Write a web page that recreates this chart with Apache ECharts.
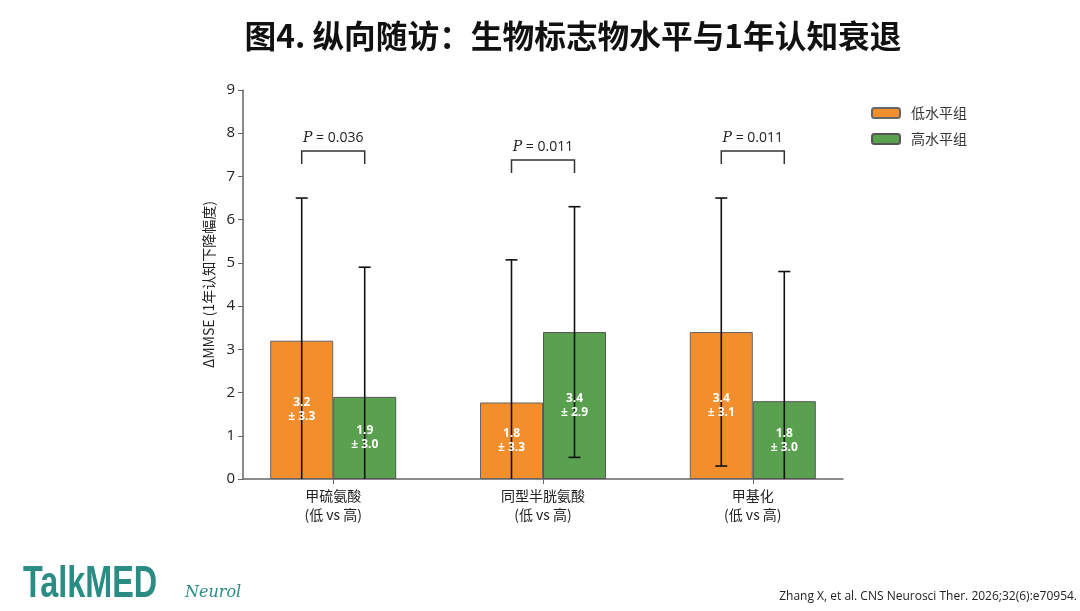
<!DOCTYPE html>
<html><head><meta charset="utf-8">
<script src="https://cdn.jsdelivr.net/npm/echarts@6/dist/echarts.min.js"></script>
<style>html,body{margin:0;padding:0;background:#fff}#c{width:1080px;height:611px}</style>
</head><body><div id="c"></div>
<script>
var categories = ['甲硫氨酸\n(低 vs 高)', '同型半胱氨酸\n(低 vs 高)', '甲基化\n(低 vs 高)'];
var categoryPos = [0, 1, 2];
var seriesNames = ['低水平组', '高水平组'];
var lowMean = [3.2, 1.77, 3.4];
var lowSD = [3.3, 3.3, 3.1];
var lowLabel = ['3.2', '1.8', '3.4'];
var highMean = [1.9, 3.4, 1.8];
var highSD = [3.0, 2.9, 3.0];
var highLabel = ['1.9', '3.4', '1.8'];
var pValues = ['0.036', '0.011', '0.011'];
var bracketTop = [7.59, 7.38, 7.59];
var bracketLeg = [7.29, 7.08, 7.29];
var yTicks = [0, 1, 2, 3, 4, 5, 6, 7, 8, 9];

var ORANGE = '#F28E2B', GREEN = '#59A14F';
var BAR_W = 63;
var chart = echarts.init(document.getElementById('c'));

function barData(means) {
  return means.map(function (m, i) { return [categoryPos[i], m]; });
}
var errData = [];
for (var i = 0; i < categories.length; i++) {
  errData.push([categoryPos[i], 0, lowMean[i], lowSD[i], lowLabel[i]]);
  errData.push([categoryPos[i], 1, highMean[i], highSD[i], highLabel[i]]);
}
var brData = pValues.map(function (p, i) { return [categoryPos[i], bracketTop[i], bracketLeg[i], p]; });

chart.setOption({
  animation: false,
  title: {
    text: '图4. 纵向随访：生物标志物水平与1年认知衰退',
    left: 568, top: 15, textAlign: 'center',
    textStyle: { fontSize: 31.7, fontWeight: 'bold', color: '#111', fontFamily: 'Noto Sans CJK SC' }
  },
  legend: {
    orient: 'vertical', left: 866, top: 101, itemWidth: 28, itemHeight: 10, itemGap: 12,
    data: seriesNames,
    textStyle: { fontSize: 14, color: '#333', fontFamily: 'Noto Sans CJK SC', padding: [0, 0, 0, 6] }
  },
  grid: { left: 243, right: 237, top: 90, bottom: 132 },
  xAxis: {
    type: 'value', min: -0.43, max: 2.43,
    splitLine: { show: false },
    axisLine: { show: true, onZero: false, lineStyle: { color: '#666', width: 1.5 } },
    axisTick: { show: true, customValues: categoryPos, length: 5, lineStyle: { color: '#666' } },
    axisLabel: { customValues: categoryPos, fontSize: 14, color: '#222', lineHeight: 19, margin: 7,
      fontFamily: 'Noto Sans CJK SC',
      formatter: function (v) { var k = categoryPos.indexOf(Math.round(v)); return k >= 0 ? categories[k] : ''; } }
  },
  yAxis: {
    type: 'value', min: 0, max: 9, interval: 1,
    name: 'ΔMMSE (1年认知下降幅度)', nameLocation: 'middle', nameGap: 22,
    nameTextStyle: { fontSize: 14, color: '#222', fontFamily: 'Noto Sans CJK SC' },
    axisLine: { show: true, onZero: false, lineStyle: { color: '#666', width: 1.5 } },
    axisTick: { show: true, length: 5, lineStyle: { color: '#666' } },
    axisLabel: { fontSize: 15, color: '#222', margin: 8, fontFamily: 'Open Sans, sans-serif',
      formatter: function (v) { return yTicks.indexOf(v) >= 0 ? String(v) : ''; } },
    splitLine: { show: false }
  },
  series: [
    { name: seriesNames[0], type: 'bar', barWidth: BAR_W, barGap: '0%',
      itemStyle: { color: ORANGE, borderColor: '#666', borderWidth: 1 },
      data: barData(lowMean), z: 2 },
    { name: seriesNames[1], type: 'bar', barWidth: BAR_W, barGap: '0%',
      itemStyle: { color: GREEN, borderColor: '#555', borderWidth: 1 },
      data: barData(highMean), z: 2 },
    { type: 'custom', name: 'err', data: errData, z: 5, silent: true,
      encode: { x: 0, y: 2 },
      renderItem: function (params, api) {
        var cat = api.value(0), which = api.value(1), m = api.value(2), sd = api.value(3);
        var lbl = errData[params.dataIndex][4];
        var c = api.coord([cat, m]);
        var x = c[0] + (which === 0 ? -BAR_W / 2 : BAR_W / 2);
        var lo = Math.max(0, m - sd);
        var pt = api.coord([cat, m + sd])[1];
        var pb = api.coord([cat, lo])[1];
        var mid = api.coord([cat, m / 2])[1];
        var st = { stroke: '#111', lineWidth: 1.6 };
        var ch = [
          { type: 'line', shape: { x1: x, y1: pt, x2: x, y2: pb }, style: st },
          { type: 'line', shape: { x1: x - 6, y1: pt, x2: x + 6, y2: pt }, style: st }
        ];
        if (m - sd > 0) ch.push({ type: 'line', shape: { x1: x - 6, y1: pb, x2: x + 6, y2: pb }, style: st });
        ch.push({ type: 'text', x: x, y: mid, z2: 10,
          style: { text: lbl + '\n± ' + sd.toFixed(1), align: 'center', verticalAlign: 'middle',
            fill: '#fff', fontWeight: 'bold', fontSize: 12, lineHeight: 14,
            fontFamily: 'Open Sans, Noto Sans, sans-serif' } });
        return { type: 'group', children: ch };
      } },
    { type: 'custom', name: 'br', data: brData, z: 5, silent: true,
      encode: { x: 0, y: 1 },
      renderItem: function (params, api) {
        var cat = api.value(0), top = api.value(1), leg = api.value(2);
        var p = brData[params.dataIndex][3];
        var c = api.coord([cat, top]);
        var yl = api.coord([cat, leg])[1];
        var x1 = c[0] - BAR_W / 2, x2 = c[0] + BAR_W / 2;
        return { type: 'group', children: [
          { type: 'polyline', shape: { points: [[x1, yl], [x1, c[1]], [x2, c[1]], [x2, yl]] },
            style: { stroke: '#333', lineWidth: 1.5, fill: null } },
          { type: 'text', x: c[0], y: c[1] - 13,
            style: { text: '{i|P} = ' + p, align: 'center', verticalAlign: 'middle',
              fontSize: 14, fill: '#222', fontFamily: 'Open Sans, sans-serif',
              rich: { i: { fontStyle: 'italic', fontFamily: 'DejaVu Serif, serif', fontSize: 14, fill: '#222' } } } }
        ] };
      } }
  ],
  graphic: [
    { type: 'text', x: 23, y: 563, scaleX: 0.98, scaleY: 1.34,
      style: { text: 'TalkMED', fontSize: 33, fontWeight: 'bold', fill: '#2A8C84',
        fontFamily: 'Liberation Sans, Arial, sans-serif' } },
    { type: 'text', left: 185, top: 585,
      style: { text: 'Neurol', fontSize: 16, fontStyle: 'italic', fill: '#2A8C84', fontFamily: 'DejaVu Serif, serif' } },
    { type: 'text', right: 3, top: 591,
      style: { text: 'Zhang X, et al. CNS Neurosci Ther. 2026;32(6):e70954.', fontSize: 12, fill: '#222', fontFamily: 'Open Sans, sans-serif' } }
  ]
});
</script></body></html>
